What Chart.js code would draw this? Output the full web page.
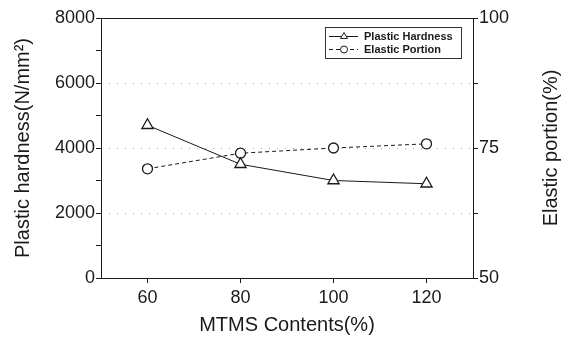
<!DOCTYPE html>
<html>
<head>
<meta charset="utf-8">
<script src="https://cdn.jsdelivr.net/npm/chart.js@4/dist/chart.umd.min.js"></script>
<style>
	html, body { margin: 0; padding: 0; background: #fff; }
	canvas { display: block; }
</style>
</head>
<body>
<canvas id="myChart" width="569" height="339"></canvas>
<script>
var contents = [60, 80, 100, 120]
var plasticHardness = [4700, 3500, 3000, 2900]
var elasticPortion = [71, 74, 75, 75.8]
var contentTicks = [60, 80, 100, 120]
var hardnessTicks = [0, 2000, 4000, 6000, 8000]
var portionTicks = [50, 75, 100]

var ink = '#1a1a1a'
var fontName = '"Liberation Sans", Arial, Helvetica, sans-serif'
var rightTitle = 'Elastic portion(%)'

function toPoints(values) {
	return contents.map(function(x, i) { return { x: x, y: values[i] } })
}

// keep every minor tick mark but only print the listed values
function onlyListed(list) {
	return function(value) { return list.indexOf(value) >= 0 ? value : '' }
}

// box round the plot, faint dotted hardness grid, the small legend inside,
// and the right axis title (chart.js turns right titles the other way)
var frameAndLegend = {
	id: 'frameAndLegend',
	beforeDatasetsDraw: function(chart) {
		var c = chart.ctx, a = chart.chartArea, y = chart.scales.y
		c.save()
		c.strokeStyle = 'rgba(0,0,0,0.35)'
		c.lineWidth = 1
		c.setLineDash([1, 7])
		hardnessTicks.forEach(function(v) {
			if (v <= y.min || v >= y.max) return
			var py = Math.round(y.getPixelForValue(v)) + 0.5
			c.beginPath()
			c.moveTo(a.left, py)
			c.lineTo(a.right, py)
			c.stroke()
		})
		c.restore()
	},
	afterDatasetsDraw: function(chart) {
		var c = chart.ctx, a = chart.chartArea
		c.save()
		c.strokeStyle = ink
		c.lineWidth = 1
		c.strokeRect(Math.round(a.left) + 0.5, Math.round(a.top) + 0.5, Math.round(a.right - a.left), Math.round(a.bottom - a.top))

		var bw = 136, bh = 31
		var bx = Math.round(a.right) - 12 - bw, by = Math.round(a.top) + 9
		c.fillStyle = '#fff'
		c.fillRect(bx, by, bw, bh)
		c.strokeStyle = '#333'
		c.strokeRect(bx + 0.5, by + 0.5, bw, bh)

		c.font = 'bold 11px ' + fontName
		c.textBaseline = 'middle'
		chart.data.datasets.forEach(function(ds, i) {
			var ry = by + 9 + i * 13 + 0.5
			c.strokeStyle = ink
			c.lineWidth = 1
			c.setLineDash(ds.borderDash || [])
			c.beginPath()
			c.moveTo(bx + 4, ry)
			c.lineTo(bx + 33, ry)
			c.stroke()
			c.setLineDash([])
			c.fillStyle = '#fff'
			Chart.helpers.drawPoint(c, {
				pointStyle: ds.pointStyle,
				radius: ds.pointStyle === 'triangle' ? 4 : 3.5,
				rotation: 0,
				borderWidth: 1
			}, bx + 19, ry)
			c.fillStyle = ink
			c.fillText(ds.label, bx + 39, ry)
		})

		var s = chart.scales.y1
		c.translate(s.right - 12, (a.top + a.bottom) / 2)
		c.rotate(-Math.PI / 2)
		c.font = '20px ' + fontName
		c.textAlign = 'center'
		c.textBaseline = 'alphabetic'
		c.fillStyle = ink
		c.fillText(rightTitle, 0, 0)
		c.restore()
	}
}

var ctx = document.getElementById('myChart')
var data = {
	datasets: [{
		label: 'Plastic Hardness',
		data: toPoints(plasticHardness),
		yAxisID: 'y',
		borderColor: ink,
		borderWidth: 1,
		pointStyle: 'triangle',
		pointRadius: 6.5,
		pointBackgroundColor: '#fff',
		pointBorderColor: ink,
		pointBorderWidth: 1.3,
		tension: 0,
	}, {
		label: 'Elastic Portion',
		data: toPoints(elasticPortion),
		yAxisID: 'y1',
		borderColor: ink,
		borderWidth: 1,
		borderDash: [4, 3],
		pointStyle: 'circle',
		pointRadius: 5,
		pointBackgroundColor: '#fff',
		pointBorderColor: ink,
		pointBorderWidth: 1.3,
		tension: 0,
	}]
}

var tickFont = { family: fontName, size: 18 }
var titleFont = { family: fontName, size: 20 }

var lineChart = new Chart(ctx, {
	type: 'line',
	data: data,
	plugins: [frameAndLegend],
	options: {
		responsive: false,
		animation: false,
		devicePixelRatio: 1,
		layout: { padding: { top: 18, left: 0, right: 0, bottom: 0 } },
		plugins: {
			legend: { display: false },
			tooltip: { enabled: false },
		},
		scales: {
			x: {
				type: 'linear',
				min: 50,
				max: 130,
				afterBuildTicks: function(s) { s.ticks = contentTicks.map(function(v) { return { value: v } }) },
				afterFit: function(s) { s.height = 61 },
				grid: { drawOnChartArea: false, tickLength: 5, tickColor: ink },
				border: { color: ink },
				ticks: { color: ink, font: tickFont, padding: 4, maxRotation: 0 },
				title: { display: true, text: 'MTMS Contents(%)', color: ink, font: titleFont, padding: { top: 0, bottom: 2 } },
			},
			y: {
				position: 'left',
				min: 0,
				max: 8000,
				afterFit: function(s) { s.width = 101 },
				grid: { drawOnChartArea: false, tickLength: 5, tickColor: ink },
				border: { color: ink },
				ticks: { stepSize: 1000, color: ink, font: tickFont, padding: 1, callback: onlyListed(hardnessTicks) },
				title: { display: true, text: 'Plastic hardness(N/mm²)', color: ink, font: titleFont, padding: { top: 11, bottom: 0 } },
			},
			y1: {
				position: 'right',
				min: 50,
				max: 100,
				afterFit: function(s) { s.width = 96 },
				grid: { drawOnChartArea: false, tickLength: 5, tickColor: ink },
				border: { color: ink },
				ticks: { stepSize: 12.5, color: ink, font: tickFont, padding: 1, callback: onlyListed(portionTicks) },
				title: { display: false },
			},
		},
	}
})
</script>
</body>
</html>
